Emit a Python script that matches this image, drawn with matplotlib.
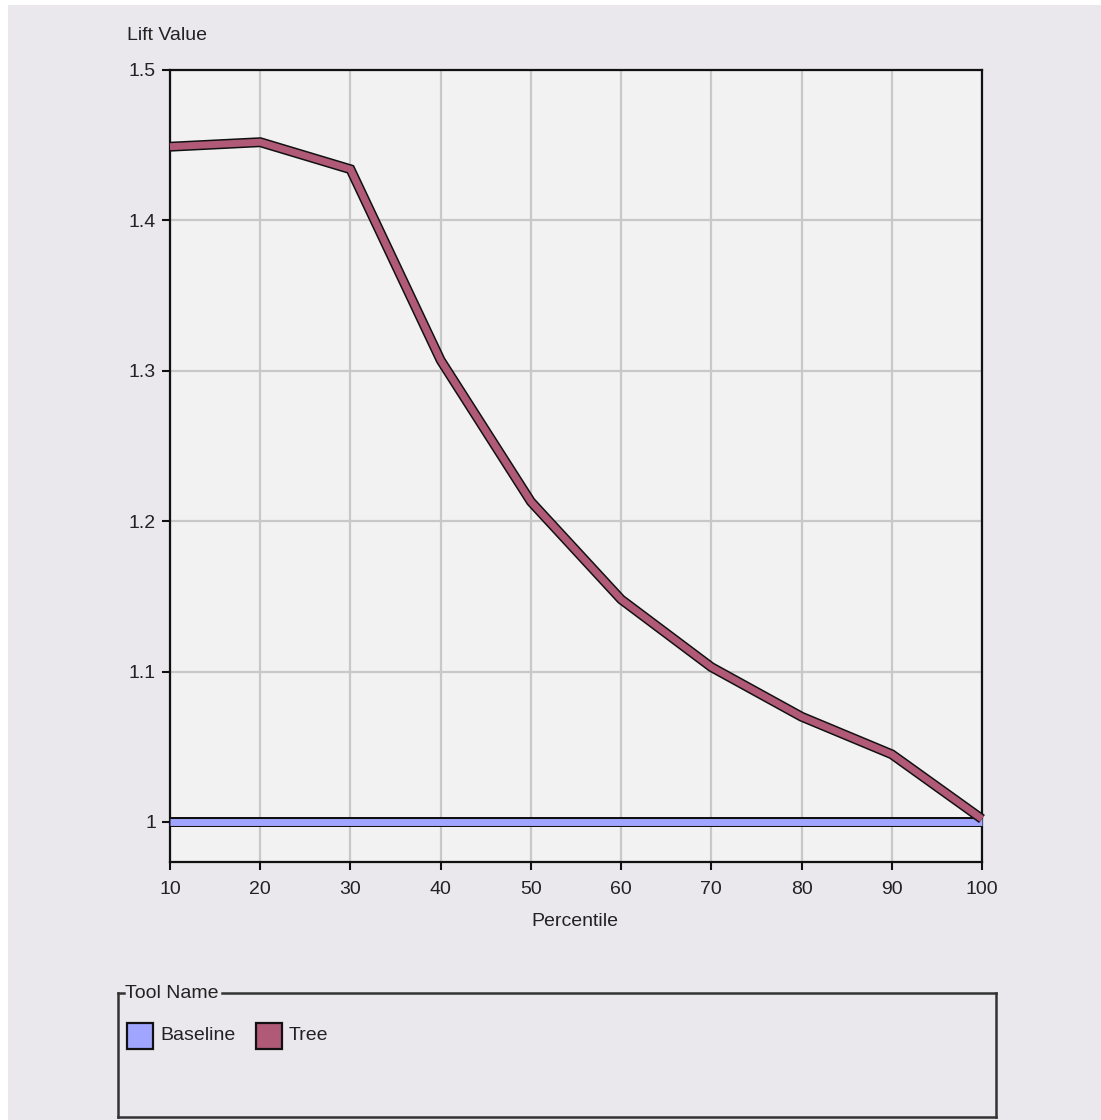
import matplotlib
matplotlib.use("Agg")
import matplotlib.pyplot as plt
import matplotlib.patheffects as pe
from matplotlib.patches import Rectangle
from matplotlib.lines import Line2D

plt.rcParams['font.family'] = ['Liberation Sans', 'DejaVu Sans']

percentile = [10, 20, 30, 40, 50, 60, 70, 80, 90, 100]
tree = [1.449, 1.452, 1.434, 1.307, 1.213, 1.148, 1.103, 1.070, 1.045, 1.002]
baseline = [1.0] * len(percentile)
series_names = ["Baseline", "Tree"]
series_colors = ["#A0A6FF", "#B05A78"]
yticks = [1, 1.1, 1.2, 1.3, 1.4, 1.5]
ytick_labels = ["1", "1.1", "1.2", "1.3", "1.4", "1.5"]
xticks = percentile

FS = 14
W, H = 1101, 1120
fig = plt.figure(figsize=(W / 100, H / 100), dpi=100, facecolor="white")
bg = Rectangle((8 / W, 0), 1 - 8 / W, 1 - 5 / H, transform=fig.transFigure,
               facecolor="#EAE8ED", edgecolor="none", zorder=-10)
fig.add_artist(bg)

ax = fig.add_axes([170 / W, 1 - 862 / H, (982 - 170) / W, (862 - 70) / H])
ax.set_facecolor("#F2F2F2")
ax.set_xlim(10, 100)
ax.set_ylim(0.9734, 1.5)
ax.set_xticks(xticks)
ax.set_xticklabels([str(v) for v in xticks])
ax.set_yticks(yticks)
ax.set_yticklabels(ytick_labels)
ax.grid(True, color="#C8C8C8", linewidth=1.6)
ax.set_axisbelow(True)
for s in ax.spines.values():
    s.set_color("#111111")
    s.set_linewidth(1.6)
ax.tick_params(direction="out", length=6, width=1.5, colors="#111111",
               labelsize=FS, labelcolor="#222222")
ax.tick_params(axis="x", pad=8)
ax.tick_params(axis="y", pad=4)

stroke = [pe.Stroke(linewidth=7.2, foreground="#111111"), pe.Normal()]
ax.plot(percentile, baseline, color=series_colors[0], linewidth=5.0,
        path_effects=stroke, solid_capstyle="butt", zorder=3, clip_on=False)
ax.plot(percentile, tree, color=series_colors[1], linewidth=5.0,
        path_effects=stroke, solid_capstyle="butt", solid_joinstyle="miter",
        zorder=4, clip_on=False)

fig.text(127 / W, 1 - 36 / H, "Lift Value", fontsize=FS, color="#222222",
         ha="left", va="center")
fig.text(575 / W, 1 - 921 / H, "Percentile", fontsize=FS, color="#222222",
         ha="center", va="center")

# legend group box
lx0, lx1, ly0, ly1 = 118, 996, 993, 1117
def fx(x): return x / W
def fy(y): return 1 - y / H
lw = 1.8
col = "#333333"
fig.add_artist(Line2D([fx(lx0), fx(lx0)], [fy(ly0), fy(ly1)], color=col, lw=lw))
fig.add_artist(Line2D([fx(lx0), fx(lx1)], [fy(ly1), fy(ly1)], color=col, lw=lw))
fig.add_artist(Line2D([fx(lx1), fx(lx1)], [fy(ly0), fy(ly1)], color=col, lw=lw))
fig.add_artist(Line2D([fx(lx0), fx(124)], [fy(ly0), fy(ly0)], color=col, lw=lw))
fig.add_artist(Line2D([fx(222), fx(lx1)], [fy(ly0), fy(ly0)], color=col, lw=lw))
fig.text(fx(125), fy(ly0), "Tool Name", fontsize=FS, color="#222222",
         ha="left", va="center")

entry_x = [127, 256]
for name, c, x0 in zip(series_names, series_colors, entry_x):
    fig.add_artist(Rectangle((fx(x0), fy(1049)), 26 / W, 26 / H,
                             transform=fig.transFigure, facecolor=c,
                             edgecolor="#111111", linewidth=1.6))
    fig.text(fx(x0 + 33), fy(1036), name, fontsize=FS, color="#222222",
             ha="left", va="center")

fig.savefig("out.png", dpi=100, facecolor="white")
